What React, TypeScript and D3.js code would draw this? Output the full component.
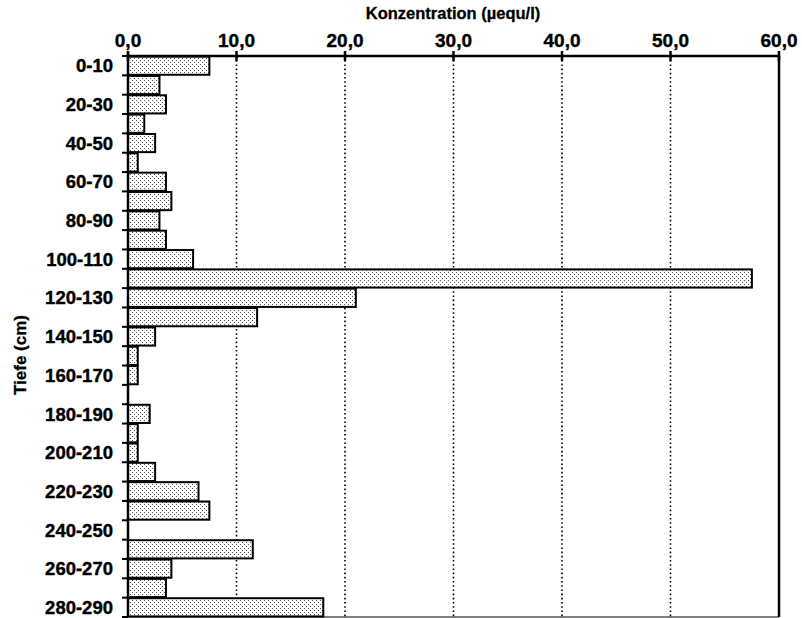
import React, { useRef, useEffect } from "react";
import { select, scaleBand, scaleLinear, range } from "d3";

// depth classes (cm) and concentration (µequ/l)
const depths = [
  "0-10", "10-20", "20-30", "30-40", "40-50", "50-60", "60-70", "70-80",
  "80-90", "90-100", "100-110", "110-120", "120-130", "130-140", "140-150",
  "150-160", "160-170", "170-180", "180-190", "190-200", "200-210", "210-220",
  "220-230", "230-240", "240-250", "250-260", "260-270", "270-280", "280-290",
];
const values = [
  7.5, 2.9, 3.5, 1.5, 2.5, 0.9, 3.5, 4.0, 2.9, 3.5, 6.0, 57.5, 21.0, 11.9,
  2.5, 0.9, 0.9, 0, 2.0, 0.9, 0.9, 2.5, 6.5, 7.5, 0, 11.5, 4.0, 3.5, 18.0,
];
const xTicks = [0, 10, 20, 30, 40, 50, 60];

const width = 802;
const height = 618;
const margin = { top: 56, right: 23, bottom: 1, left: 128 };
const font = "'Liberation Sans', Arial, sans-serif";

function App() {
  const svgRef = useRef(null);

  useEffect(() => {
    const svg = select(svgRef.current);
    svg.selectAll("*").remove();

    const x = scaleLinear()
      .domain([0, 60])
      .range([margin.left, width - margin.right]);
    const y = scaleBand()
      .domain(depths)
      .range([margin.top, height - margin.bottom])
      .paddingInner(0.06)
      .paddingOuter(0.03);

    const defs = svg.append("defs");
    const pat = defs
      .append("pattern")
      .attr("id", "stipple")
      .attr("patternUnits", "userSpaceOnUse")
      .attr("width", 4)
      .attr("height", 4);
    pat.append("rect").attr("width", 4).attr("height", 4).attr("fill", "#fff");
    pat.append("rect").attr("x", 0).attr("y", 0).attr("width", 1).attr("height", 1).attr("fill", "#555");
    pat.append("rect").attr("x", 2).attr("y", 2).attr("width", 1).attr("height", 1).attr("fill", "#555");

    // dotted gridlines
    svg
      .selectAll(".grid")
      .data(xTicks.slice(1, -1))
      .join("line")
      .attr("class", "grid")
      .attr("x1", (d) => x(d))
      .attr("x2", (d) => x(d))
      .attr("y1", margin.top)
      .attr("y2", height - margin.bottom)
      .attr("stroke", "#000")
      .attr("stroke-width", 1.6)
      .attr("stroke-dasharray", "1.6,2.6");

    // bars
    svg
      .selectAll(".bar")
      .data(values.map((v, i) => ({ name: depths[i], value: v })).filter((d) => d.value > 0))
      .join("rect")
      .attr("class", "bar")
      .attr("x", x(0))
      .attr("y", (d) => y(d.name))
      .attr("width", (d) => x(d.value) - x(0))
      .attr("height", y.bandwidth())
      .attr("fill", "url(#stipple)")
      .attr("stroke", "#000")
      .attr("stroke-width", 2);

    // frame: top axis, right and bottom border, left axis
    const frame = svg.append("g").attr("stroke", "#000").attr("fill", "none");
    frame.append("line").attr("x1", x(0)).attr("x2", x(60)).attr("y1", margin.top).attr("y2", margin.top).attr("stroke-width", 2.5);
    frame.append("line").attr("x1", x(60)).attr("x2", x(60)).attr("y1", margin.top).attr("y2", height - margin.bottom).attr("stroke-width", 2.5);
    frame.append("line").attr("x1", x(0)).attr("x2", x(60)).attr("y1", height - margin.bottom).attr("y2", height - margin.bottom).attr("stroke-width", 1);
    frame.append("line").attr("x1", x(0)).attr("x2", x(0)).attr("y1", margin.top - 4).attr("y2", height - margin.bottom).attr("stroke-width", 2.5);

    // top axis ticks and labels
    svg
      .selectAll(".xtick")
      .data(xTicks)
      .join("line")
      .attr("class", "xtick")
      .attr("x1", (d) => x(d))
      .attr("x2", (d) => x(d))
      .attr("y1", margin.top - 5)
      .attr("y2", margin.top + 5)
      .attr("stroke", "#000")
      .attr("stroke-width", 2.5);
    svg
      .selectAll(".xlabel")
      .data(xTicks)
      .join("text")
      .attr("class", "xlabel")
      .attr("x", (d) => x(d))
      .attr("y", 47)
      .attr("text-anchor", "middle")
      .attr("font-family", font)
      .attr("font-weight", "bold")
      .attr("font-size", 19)
      .attr("stroke", "#000")
      .attr("stroke-width", 0.4)
      .text((d) => d.toFixed(1).replace(".", ","));

    // left ticks at band boundaries
    const step = y.step();
    svg
      .selectAll(".ytick")
      .data(range(depths.length + 1))
      .join("line")
      .attr("class", "ytick")
      .attr("x1", x(0) - 6)
      .attr("x2", x(0))
      .attr("y1", (i) => margin.top + i * step)
      .attr("y2", (i) => margin.top + i * step)
      .attr("stroke", "#000")
      .attr("stroke-width", 2);

    svg
      .selectAll(".ylabel")
      .data(depths.filter((d, i) => i % 2 === 0))
      .join("text")
      .attr("class", "ylabel")
      .attr("x", 113)
      .attr("y", (d) => y(d) + y.bandwidth() / 2)
      .attr("dy", "0.36em")
      .attr("text-anchor", "end")
      .attr("font-family", font)
      .attr("font-weight", "bold")
      .attr("font-size", 18.5)
      .attr("stroke", "#000")
      .attr("stroke-width", 0.4)
      .text((d) => d);

    // titles
    svg
      .append("text")
      .attr("x", 453)
      .attr("y", 19)
      .attr("text-anchor", "middle")
      .attr("font-family", font)
      .attr("font-weight", "bold")
      .attr("font-size", 16.5)
      .attr("stroke", "#000")
      .attr("stroke-width", 0.3)
      .text("Konzentration (µequ/l)");
    svg
      .append("text")
      .attr("transform", `translate(26,355) rotate(-90)`)
      .attr("text-anchor", "middle")
      .attr("font-family", font)
      .attr("font-weight", "bold")
      .attr("font-size", 17)
      .attr("stroke", "#000")
      .attr("stroke-width", 0.3)
      .text("Tiefe (cm)");
  }, []);

  return (
    <div>
      <svg
        ref={svgRef}
        width={width}
        height={height}
        style={{ position: "absolute", left: 0, top: 0, background: "#fff" }}
      ></svg>
    </div>
  );
}

export default App;
